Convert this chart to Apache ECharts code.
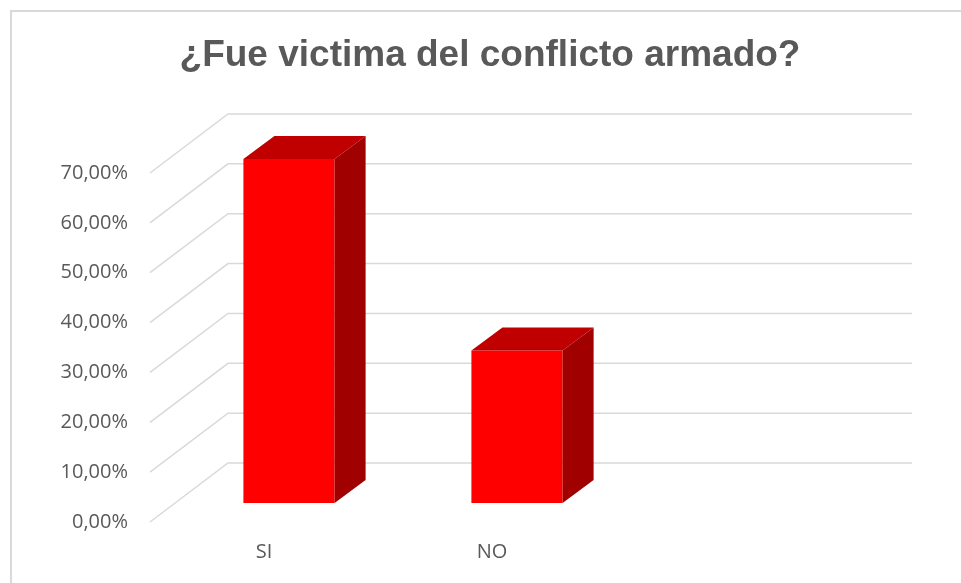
<!DOCTYPE html>
<html>
<head>
<meta charset="utf-8">
<title>¿Fue victima del conflicto armado?</title>
<script src="https://cdn.jsdelivr.net/npm/echarts@6/dist/echarts.min.js"></script>
<style>
  html, body { margin: 0; padding: 0; background: #fff; }
  #chart { width: 961px; height: 583px; }
</style>
</head>
<body>
<div id="chart"></div>
<script>
const categories = ['SI', 'NO', '']
const values = [69.0, 30.6, null]
const yTicks = [0, 10, 20, 30, 40, 50, 60, 70]

// oblique 3D offsets in px (front plane -> back wall / bar plane / bar depth)
const WALL = [78, -59]
const BAR_SHIFT = [25, -19]
const BAR_DEPTH = [31, -23]

const textColor = '#595959'
const gridColor = '#d9d9d9'

const chart = echarts.init(document.getElementById('chart'))

function renderWall(params, api) {
  const cs = params.coordSys
  const y = api.coord([0, api.value(1)])[1]
  const x0 = cs.x
  const x1 = cs.x + cs.width
  return {
    type: 'polyline',
    shape: {
      points: [[x0, y], [x0 + WALL[0], y + WALL[1]], [x1 + WALL[0], y + WALL[1]]]
    },
    style: { stroke: gridColor, lineWidth: 1.5, fill: null }
  }
}

function renderBar(params, api) {
  const idx = api.value(0)
  const val = api.value(1)
  const base = api.coord([idx, 0])
  const top = api.coord([idx, val])
  const w = api.size([1, 0])[0] * 0.4
  const xl = base[0] - w / 2 + BAR_SHIFT[0]
  const xr = xl + w
  const yb = base[1] + BAR_SHIFT[1]
  const yt = top[1] + BAR_SHIFT[1]
  const dx = BAR_DEPTH[0]
  const dy = BAR_DEPTH[1]
  return {
    type: 'group',
    children: [
      {
        type: 'polygon',
        shape: { points: [[xl, yt], [xr, yt], [xr, yb], [xl, yb]] },
        style: { fill: '#ff0000' }
      },
      {
        type: 'polygon',
        shape: { points: [[xl, yt], [xr, yt], [xr + dx, yt + dy], [xl + dx, yt + dy]] },
        style: { fill: '#c00000' }
      },
      {
        type: 'polygon',
        shape: { points: [[xr, yt], [xr, yb], [xr + dx, yb + dy], [xr + dx, yt + dy]] },
        style: { fill: '#a00000' }
      }
    ]
  }
}

const option = {
  animation: false,
  title: {
    text: '¿Fue victima del conflicto armado?',
    left: 490,
    top: 37,
    padding: 0,
    textAlign: 'center',
    textStyle: {
      fontFamily: 'Liberation Sans',
      fontWeight: 'bold',
      fontSize: 37,
      color: textColor
    }
  },
  graphic: [
    {
      type: 'rect',
      shape: { x: 11, y: 11, width: 1000, height: 1000 },
      style: { fill: null, stroke: gridColor, lineWidth: 2 },
      silent: true
    }
  ],
  grid: {
    left: 150,
    right: 127,
    top: 173,
    bottom: 61
  },
  xAxis: {
    type: 'category',
    data: categories,
    axisLine: { show: false },
    axisTick: { show: false },
    axisLabel: {
      color: textColor,
      fontFamily: 'Open Sans',
      fontSize: 20,
      margin: 20
    }
  },
  yAxis: {
    type: 'value',
    min: 0,
    max: 70,
    interval: 10,
    axisLine: { show: false },
    axisTick: { show: false },
    splitLine: { show: false },
    axisLabel: {
      color: textColor,
      fontFamily: 'Open Sans',
      fontSize: 20,
      margin: 22,
      formatter: v => v.toFixed(2).replace('.', ',') + '%'
    }
  },
  series: [
    {
      name: 'walls',
      type: 'custom',
      renderItem: renderWall,
      encode: { x: 0, y: 1 },
      data: yTicks.map(v => [0, v]),
      silent: true,
      z: 1
    },
    {
      name: 'bars',
      type: 'custom',
      renderItem: renderBar,
      encode: { x: 0, y: 1 },
      data: values.map((v, i) => [i, v]).filter(d => d[1] != null),
      z: 2
    }
  ]
}

chart.setOption(option)
</script>
</body>
</html>
